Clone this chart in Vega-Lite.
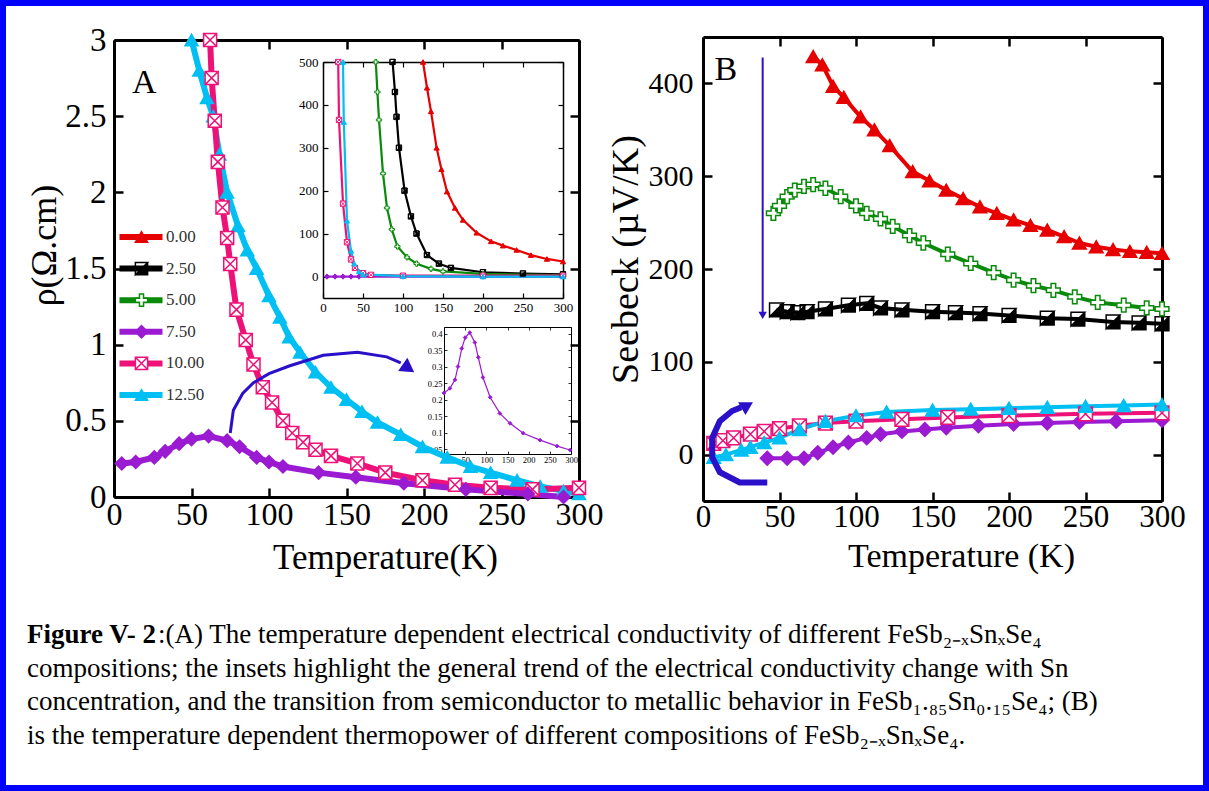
{
"$schema":"https://vega.github.io/schema/vega-lite/v6.json",
"width":1209,"height":791,"autosize":"none","padding":0,"background":"white",
"config":{
 "view":{"stroke":"#0000ff","strokeWidth":12},
 "axis":{"grid":false,"labelFlush":false,"labelOverlap":false,"domainColor":"black","tickColor":"black","labelColor":"black","titleColor":"black","labelFont":"Liberation Serif","titleFont":"Liberation Serif","titleFontWeight":"normal"},
 "legend":{"labelFont":"Liberation Serif","labelColor":"#333333","padding":0}
},
"datasets":{
 "rhoMain":[
  {"c":12.5,"T":50,"v":3.0},{"c":12.5,"T":55,"v":2.8},{"c":12.5,"T":60,"v":2.62},{"c":12.5,"T":64,"v":2.5},{"c":12.5,"T":68,"v":2.25},{"c":12.5,"T":73,"v":2.0},{"c":12.5,"T":80,"v":1.78},{"c":12.5,"T":86,"v":1.62},{"c":12.5,"T":92,"v":1.5},{"c":12.5,"T":100,"v":1.32},{"c":12.5,"T":107,"v":1.18},{"c":12.5,"T":113,"v":1.05},{"c":12.5,"T":120,"v":0.95},{"c":12.5,"T":130,"v":0.82},{"c":12.5,"T":140,"v":0.72},{"c":12.5,"T":150,"v":0.64},{"c":12.5,"T":160,"v":0.56},{"c":12.5,"T":170,"v":0.49},{"c":12.5,"T":185,"v":0.41},{"c":12.5,"T":199,"v":0.33},{"c":12.5,"T":215,"v":0.26},{"c":12.5,"T":230,"v":0.2},{"c":12.5,"T":243,"v":0.16},{"c":12.5,"T":260,"v":0.11},{"c":12.5,"T":275,"v":0.07},{"c":12.5,"T":290,"v":0.04},{"c":12.5,"T":300,"v":0.02},
  {"c":10,"T":62,"v":3.0},{"c":10,"T":63,"v":2.75},{"c":10,"T":65,"v":2.47},{"c":10,"T":67,"v":2.2},{"c":10,"T":70,"v":1.9},{"c":10,"T":73,"v":1.7},{"c":10,"T":75,"v":1.53},{"c":10,"T":79,"v":1.23},{"c":10,"T":85,"v":1.03},{"c":10,"T":90,"v":0.87},{"c":10,"T":96,"v":0.72},{"c":10,"T":102,"v":0.62},{"c":10,"T":109,"v":0.5},{"c":10,"T":115,"v":0.42},{"c":10,"T":122,"v":0.36},{"c":10,"T":130,"v":0.31},{"c":10,"T":140,"v":0.27},{"c":10,"T":157,"v":0.22},{"c":10,"T":175,"v":0.16},{"c":10,"T":199,"v":0.11},{"c":10,"T":220,"v":0.08},{"c":10,"T":243,"v":0.06},{"c":10,"T":270,"v":0.05},{"c":10,"T":300,"v":0.06},
  {"c":7.5,"T":5,"v":0.22},{"c":7.5,"T":14,"v":0.23},{"c":7.5,"T":26,"v":0.26},{"c":7.5,"T":33,"v":0.3},{"c":7.5,"T":42,"v":0.35},{"c":7.5,"T":50,"v":0.38},{"c":7.5,"T":61,"v":0.4},{"c":7.5,"T":73,"v":0.37},{"c":7.5,"T":81,"v":0.33},{"c":7.5,"T":92,"v":0.26},{"c":7.5,"T":100,"v":0.23},{"c":7.5,"T":109,"v":0.2},{"c":7.5,"T":132,"v":0.16},{"c":7.5,"T":156,"v":0.13},{"c":7.5,"T":187,"v":0.09},{"c":7.5,"T":227,"v":0.05},{"c":7.5,"T":267,"v":0.02},{"c":7.5,"T":290,"v":0.0}
 ],
 "rhoInset":[
  {"c":0,"T":125,"v":500},{"c":0,"T":130,"v":440},{"c":0,"T":135,"v":385},{"c":0,"T":142,"v":300},{"c":0,"T":148,"v":250},{"c":0,"T":155,"v":198},{"c":0,"T":165,"v":160},{"c":0,"T":175,"v":132},{"c":0,"T":192,"v":102},{"c":0,"T":210,"v":82},{"c":0,"T":225,"v":72},{"c":0,"T":242,"v":62},{"c":0,"T":260,"v":50},{"c":0,"T":280,"v":41},{"c":0,"T":300,"v":35},
  {"c":2.5,"T":87,"v":500},{"c":2.5,"T":90,"v":430},{"c":2.5,"T":92,"v":372},{"c":2.5,"T":95,"v":300},{"c":2.5,"T":102,"v":200},{"c":2.5,"T":110,"v":140},{"c":2.5,"T":117,"v":100},{"c":2.5,"T":130,"v":50},{"c":2.5,"T":145,"v":30},{"c":2.5,"T":160,"v":20},{"c":2.5,"T":200,"v":10},{"c":2.5,"T":250,"v":7},{"c":2.5,"T":300,"v":5},
  {"c":5,"T":66,"v":500},{"c":5,"T":68,"v":430},{"c":5,"T":70,"v":365},{"c":5,"T":75,"v":240},{"c":5,"T":80,"v":160},{"c":5,"T":86,"v":110},{"c":5,"T":93,"v":70},{"c":5,"T":105,"v":45},{"c":5,"T":117,"v":30},{"c":5,"T":135,"v":18},{"c":5,"T":150,"v":12},{"c":5,"T":200,"v":6},{"c":5,"T":300,"v":3},
  {"c":7.5,"T":5,"v":0},{"c":7.5,"T":15,"v":0},{"c":7.5,"T":25,"v":0},{"c":7.5,"T":35,"v":0},{"c":7.5,"T":45,"v":0},{"c":7.5,"T":100,"v":0},{"c":7.5,"T":200,"v":0},{"c":7.5,"T":300,"v":0},
  {"c":10,"T":19,"v":500},{"c":10,"T":20,"v":365},{"c":10,"T":25,"v":170},{"c":10,"T":30,"v":80},{"c":10,"T":35,"v":40},{"c":10,"T":40,"v":20},{"c":10,"T":50,"v":8},{"c":10,"T":60,"v":4},{"c":10,"T":100,"v":2},{"c":10,"T":200,"v":2},{"c":10,"T":300,"v":2},
  {"c":12.5,"T":25,"v":500},{"c":12.5,"T":26,"v":360},{"c":12.5,"T":30,"v":130},{"c":12.5,"T":35,"v":60},{"c":12.5,"T":39,"v":30},{"c":12.5,"T":45,"v":12},{"c":12.5,"T":50,"v":5},{"c":12.5,"T":100,"v":1},{"c":12.5,"T":200,"v":0},{"c":12.5,"T":300,"v":0}
 ],
 "rhoInset2":[
  {"c":7.5,"T":0,"v":0.22},{"c":7.5,"T":14,"v":0.234},{"c":7.5,"T":26,"v":0.26},{"c":7.5,"T":33,"v":0.3},{"c":7.5,"T":42,"v":0.355},{"c":7.5,"T":50,"v":0.388},{"c":7.5,"T":61,"v":0.403},{"c":7.5,"T":73,"v":0.373},{"c":7.5,"T":81,"v":0.328},{"c":7.5,"T":92,"v":0.267},{"c":7.5,"T":109,"v":0.207},{"c":7.5,"T":132,"v":0.158},{"c":7.5,"T":156,"v":0.128},{"c":7.5,"T":187,"v":0.098},{"c":7.5,"T":227,"v":0.077},{"c":7.5,"T":267,"v":0.059},{"c":7.5,"T":298,"v":0.047}
 ],
 "seebeck":[
  {"c":0,"T":72,"v":429},{"c":0,"T":78,"v":420},{"c":0,"T":85,"v":397},{"c":0,"T":92,"v":385},{"c":0,"T":103,"v":364},{"c":0,"T":112,"v":350},{"c":0,"T":122,"v":333},{"c":0,"T":137,"v":305},{"c":0,"T":148,"v":295},{"c":0,"T":159,"v":285},{"c":0,"T":170,"v":276},{"c":0,"T":181,"v":267},{"c":0,"T":192,"v":260},{"c":0,"T":203,"v":253},{"c":0,"T":214,"v":247},{"c":0,"T":225,"v":242},{"c":0,"T":236,"v":235},{"c":0,"T":246,"v":228},{"c":0,"T":257,"v":224},{"c":0,"T":268,"v":221},{"c":0,"T":279,"v":219},{"c":0,"T":290,"v":218},{"c":0,"T":300,"v":217},
  {"c":2.5,"T":48,"v":156},{"c":2.5,"T":55,"v":154},{"c":2.5,"T":62,"v":153},{"c":2.5,"T":68,"v":154},{"c":2.5,"T":80,"v":157},{"c":2.5,"T":95,"v":161},{"c":2.5,"T":107,"v":163},{"c":2.5,"T":116,"v":158},{"c":2.5,"T":130,"v":156},{"c":2.5,"T":150,"v":154},{"c":2.5,"T":165,"v":153},{"c":2.5,"T":181,"v":152},{"c":2.5,"T":200,"v":150},{"c":2.5,"T":225,"v":147},{"c":2.5,"T":245,"v":146},{"c":2.5,"T":268,"v":143},{"c":2.5,"T":285,"v":142},{"c":2.5,"T":300,"v":141},
  {"c":5,"T":46,"v":260},{"c":5,"T":50,"v":268},{"c":5,"T":55,"v":278},{"c":5,"T":60,"v":285},{"c":5,"T":66,"v":289},{"c":5,"T":72,"v":291},{"c":5,"T":80,"v":287},{"c":5,"T":90,"v":278},{"c":5,"T":100,"v":268},{"c":5,"T":107,"v":260},{"c":5,"T":116,"v":254},{"c":5,"T":124,"v":246},{"c":5,"T":135,"v":236},{"c":5,"T":144,"v":228},{"c":5,"T":160,"v":216},{"c":5,"T":175,"v":206},{"c":5,"T":190,"v":196},{"c":5,"T":203,"v":188},{"c":5,"T":216,"v":182},{"c":5,"T":229,"v":177},{"c":5,"T":243,"v":170},{"c":5,"T":258,"v":164},{"c":5,"T":275,"v":161},{"c":5,"T":290,"v":158},{"c":5,"T":300,"v":157},
  {"c":7.5,"T":42,"v":-4},{"c":7.5,"T":55,"v":-4},{"c":7.5,"T":66,"v":-4},{"c":7.5,"T":75,"v":2},{"c":7.5,"T":85,"v":8},{"c":7.5,"T":95,"v":13},{"c":7.5,"T":107,"v":18},{"c":7.5,"T":116,"v":22},{"c":7.5,"T":130,"v":25},{"c":7.5,"T":145,"v":27},{"c":7.5,"T":159,"v":29},{"c":7.5,"T":180,"v":31},{"c":7.5,"T":203,"v":33},{"c":7.5,"T":225,"v":34},{"c":7.5,"T":246,"v":35},{"c":7.5,"T":270,"v":36},{"c":7.5,"T":300,"v":37},
  {"c":10,"T":7,"v":12},{"c":10,"T":13,"v":15},{"c":10,"T":20,"v":18},{"c":10,"T":31,"v":22},{"c":10,"T":40,"v":25},{"c":10,"T":50,"v":28},{"c":10,"T":63,"v":31},{"c":10,"T":80,"v":34},{"c":10,"T":100,"v":36},{"c":10,"T":130,"v":38},{"c":10,"T":160,"v":40},{"c":10,"T":200,"v":42},{"c":10,"T":250,"v":44},{"c":10,"T":300,"v":45},
  {"c":12.5,"T":7,"v":-3},{"c":12.5,"T":15,"v":0},{"c":12.5,"T":25,"v":5},{"c":12.5,"T":31,"v":8},{"c":12.5,"T":40,"v":13},{"c":12.5,"T":50,"v":18},{"c":12.5,"T":63,"v":27},{"c":12.5,"T":80,"v":36},{"c":12.5,"T":100,"v":42},{"c":12.5,"T":120,"v":46},{"c":12.5,"T":150,"v":48},{"c":12.5,"T":175,"v":49},{"c":12.5,"T":200,"v":50},{"c":12.5,"T":225,"v":51},{"c":12.5,"T":250,"v":52},{"c":12.5,"T":275,"v":53},{"c":12.5,"T":300,"v":54}
 ],
 "arrowA":[{"i":1,"T":75,"v":0.42},{"i":2,"T":77,"v":0.57},{"i":3,"T":83,"v":0.68},{"i":4,"T":90,"v":0.75},{"i":5,"T":100,"v":0.81},{"i":6,"T":113,"v":0.86},{"i":7,"T":135,"v":0.93},{"i":8,"T":157,"v":0.95},{"i":9,"T":176,"v":0.92},{"i":10,"T":185,"v":0.88}],
 "arrowAHead":[{"T":190,"v":0.845}],
 "arrowB":[{"i":1,"T":42,"v":-30},{"i":2,"T":24,"v":-30},{"i":3,"T":11,"v":-19},{"i":4,"T":6,"v":-3},{"i":5,"T":6,"v":18},{"i":6,"T":11,"v":36},{"i":7,"T":19,"v":47},{"i":8,"T":25,"v":51}],
 "arrowBHead":[{"T":29,"v":53}],
 "vArrow":[{"T":39,"v":428,"v2":152}],
 "vArrowHead":[{"T":39,"v":150}],
 "labelA":[{"T":19.5,"v":2.72,"t":"A"}],
 "labelB":[{"T":15,"v":414,"t":"B"}],
 "capBold":[{"line":1,"t":"Figure V- 2"}],
 "capFirst":[{"line":1,"t":":(A) The temperature dependent electrical conductivity of different  FeSb₂₋ₓSnₓSe₄"}],
 "capRest":[
  {"line":2,"t":"compositions; the insets highlight the general trend of the electrical conductivity change with Sn"},
  {"line":3,"t":"concentration, and the transition from semiconductor to metallic behavior in FeSb₁.₈₅Sn₀.₁₅Se₄; (B)"},
  {"line":4,"t":"is the temperature dependent thermopower of different compositions of FeSb₂₋ₓSnₓSe₄."}
 ]
},
"layer":[
 {
  "layer":[
   {"data":{"name":"rhoMain"},"mark":{"type":"line","strokeWidth":6},
    "encoding":{
     "x":{"field":"T","type":"quantitative","scale":{"domain":[0,300],"range":[114,579],"nice":false,"zero":false},
      "axis":{"orient":"bottom","offset":-294,"values":[0,50,100,150,200,250,300],"tickSize":-9,"tickWidth":2.5,"domainWidth":3,"labelFontSize":32,"labelPadding":11,"title":"Temperature(K)","titleFontSize":35,"titleX":385,"titleY":60,"titleBaseline":"middle"}},
     "y":{"field":"v","type":"quantitative","scale":{"domain":[0,3],"range":[497,40],"nice":false,"zero":false},
      "axis":{"orient":"left","offset":-114,"values":[0,0.5,1,1.5,2,2.5,3],"format":"~g","tickSize":-9,"tickWidth":2.5,"domainWidth":3,"labelFontSize":33,"labelPadding":17,"title":"ρ(Ω.cm)","titleFontSize":36,"titleX":-70,"titleY":245,"titleBaseline":"middle"}},
     "color":{"field":"c","type":"ordinal","scale":{"range":["#e60000","#000000","#0a8a0a","#9a1bd1","#ee1177","#00bff2"]},
      "legend":{"orient":"none","legendX":116,"legendY":224,"title":null,"symbolType":"stroke","symbolSize":1850,"symbolStrokeWidth":6,"clipHeight":26,"rowPadding":5.6,"labelFontSize":17,"labelOffset":0,"format":".2f","formatType":"number"}}
    }},
   {"data":{"name":"rhoMain"},"mark":{"type":"point","size":170,"strokeWidth":1.5,"opacity":1},
    "encoding":{
     "x":{"field":"T","type":"quantitative","scale":{"domain":[0,300],"range":[114,579],"nice":false,"zero":false},"axis":null},
     "y":{"field":"v","type":"quantitative","scale":{"domain":[0,3],"range":[497,40],"nice":false,"zero":false},"axis":null},
     "shape":{"field":"c","type":"ordinal","scale":{"domain":[0,2.5,5,7.5,10,12.5],"range":["triangle-up","M-1,-1H1V1H-1Z M-1,-1L-1,1L1,-1Z","M-0.33,-1H0.33V-0.33H1V0.33H0.33V1H-0.33V0.33H-1V-0.33H-0.33Z","diamond","M-1,-1H1V1H-1Z M-1,-1L1,1 M1,-1L-1,1","triangle-up"]},
      "legend":{"orient":"none","legendX":133,"legendY":224,"title":null,"symbolSize":150,"symbolStrokeWidth":1.5,"clipHeight":26,"rowPadding":5.6,"labelFontSize":17,"labelExpr":"''"}},
     "fill":{"field":"c","type":"ordinal","scale":{"domain":[0,2.5,5,7.5,10,12.5],"range":["#e60000","#000000","#ffffff","#9a1bd1","#ffffff","#00bff2"]}},
     "stroke":{"field":"c","type":"ordinal","scale":{"domain":[0,2.5,5,7.5,10,12.5],"range":["#e60000","#000000","#0a8a0a","#9a1bd1","#ee1177","#00bff2"]}}
    }},
   {"data":{"name":"arrowA"},"mark":{"type":"line","strokeWidth":3,"color":"#2a10c8"},
    "encoding":{
     "x":{"field":"T","type":"quantitative","scale":{"domain":[0,300],"range":[114,579],"nice":false,"zero":false},"axis":null},
     "y":{"field":"v","type":"quantitative","scale":{"domain":[0,3],"range":[497,40],"nice":false,"zero":false},"axis":null},
     "order":{"field":"i","type":"quantitative"}
    }},
   {"data":{"name":"arrowAHead"},"mark":{"type":"point","shape":"triangle-up","angle":125,"size":260,"filled":true,"opacity":1,"color":"#2a10c8"},
    "encoding":{
     "x":{"field":"T","type":"quantitative","scale":{"domain":[0,300],"range":[114,579],"nice":false,"zero":false},"axis":null},
     "y":{"field":"v","type":"quantitative","scale":{"domain":[0,3],"range":[497,40],"nice":false,"zero":false},"axis":null}
    }},
   {"data":{"name":"labelA"},"mark":{"type":"text","font":"Liberation Serif","fontSize":34,"align":"center","baseline":"middle","color":"black"},
    "encoding":{
     "x":{"field":"T","type":"quantitative","scale":{"domain":[0,300],"range":[114,579],"nice":false,"zero":false},
      "axis":{"orient":"top","offset":-40,"values":[0,50,100,150,200,250,300],"tickSize":-9,"tickWidth":2.5,"domainWidth":3,"labels":false,"title":null}},
     "y":{"field":"v","type":"quantitative","scale":{"domain":[0,3],"range":[497,40],"nice":false,"zero":false},
      "axis":{"orient":"right","offset":-630,"values":[0,0.5,1,1.5,2,2.5,3],"tickSize":-9,"tickWidth":2.5,"domainWidth":3,"labels":false,"title":null}},
     "text":{"field":"t"}
    }}
  ],
  "resolve":{"axis":{"x":"independent","y":"independent"}}
 },
 {
  "layer":[
   {"data":{"name":"rhoInset"},"mark":{"type":"line","strokeWidth":2.2},
    "encoding":{
     "x":{"field":"T","type":"quantitative","scale":{"domain":[0,300],"range":[323,563],"nice":false,"zero":false},
      "axis":{"orient":"bottom","offset":-493,"values":[0,50,100,150,200,250,300],"tickSize":-5,"tickWidth":1.2,"domainWidth":1.5,"labelFontSize":13,"labelPadding":8,"title":null}},
     "y":{"field":"v","type":"quantitative","scale":{"domain":[-50,500],"range":[298,62],"nice":false,"zero":false},
      "axis":{"orient":"left","offset":-323,"values":[0,100,200,300,400,500],"tickSize":-5,"tickWidth":1.2,"domainWidth":1.5,"labelFontSize":13,"labelPadding":10,"title":null}},
     "color":{"field":"c","type":"ordinal","scale":{"range":["#e60000","#000000","#0a8a0a","#9a1bd1","#ee1177","#00bff2"]}}
    }},
   {"data":{"name":"rhoInset"},"mark":{"type":"point","size":28,"strokeWidth":1,"opacity":1},
    "encoding":{
     "x":{"field":"T","type":"quantitative","scale":{"domain":[0,300],"range":[323,563],"nice":false,"zero":false},
      "axis":{"orient":"top","offset":-62,"values":[0,50,100,150,200,250,300],"tickSize":-5,"tickWidth":1.2,"domainWidth":1.5,"labels":false,"title":null}},
     "y":{"field":"v","type":"quantitative","scale":{"domain":[-50,500],"range":[298,62],"nice":false,"zero":false},
      "axis":{"orient":"right","offset":-646,"values":[0,100,200,300,400,500],"tickSize":-5,"tickWidth":1.2,"domainWidth":1.5,"labels":false,"title":null}},
     "shape":{"field":"c","type":"ordinal","scale":{"domain":[0,2.5,5,7.5,10,12.5],"range":["triangle-up","M-1,-1H1V1H-1Z M-1,-1L-1,1L1,-1Z","M-0.33,-1H0.33V-0.33H1V0.33H0.33V1H-0.33V0.33H-1V-0.33H-0.33Z","diamond","M-1,-1H1V1H-1Z M-1,-1L1,1 M1,-1L-1,1","triangle-up"]}},
     "fill":{"field":"c","type":"ordinal","scale":{"domain":[0,2.5,5,7.5,10,12.5],"range":["#e60000","#000000","#ffffff","#9a1bd1","#ffffff","#00bff2"]}},
     "stroke":{"field":"c","type":"ordinal","scale":{"domain":[0,2.5,5,7.5,10,12.5],"range":["#e60000","#000000","#0a8a0a","#9a1bd1","#ee1177","#00bff2"]}}
    }}
  ],
  "resolve":{"axis":{"x":"independent","y":"independent"}}
 },
 {
  "layer":[
   {"data":{"name":"rhoInset2"},"mark":{"type":"line","strokeWidth":1.2},
    "encoding":{
     "x":{"field":"T","type":"quantitative","scale":{"domain":[0,300],"range":[444,571],"nice":false,"zero":false},
      "axis":{"orient":"bottom","offset":-337,"values":[0,50,100,150,200,250,300],"tickSize":-3,"tickWidth":0.8,"domainWidth":1,"labelFontSize":8.5,"labelPadding":4,"title":null}},
     "y":{"field":"v","type":"quantitative","scale":{"domain":[0.035,0.42],"range":[454,327],"nice":false,"zero":false},
      "axis":{"orient":"left","offset":-444,"values":[0.05,0.1,0.15,0.2,0.25,0.3,0.35,0.4],"format":".2~f","tickSize":-3,"tickWidth":0.8,"domainWidth":1,"labelFontSize":8.5,"labelPadding":5,"title":null}},
     "color":{"field":"c","type":"ordinal","scale":{"range":["#e60000","#000000","#0a8a0a","#9a1bd1","#ee1177","#00bff2"]}}
    }},
   {"data":{"name":"rhoInset2"},"mark":{"type":"point","size":14,"strokeWidth":1,"opacity":1},
    "encoding":{
     "x":{"field":"T","type":"quantitative","scale":{"domain":[0,300],"range":[444,571],"nice":false,"zero":false},
      "axis":{"orient":"top","offset":-327,"values":[0,50,100,150,200,250,300],"tickSize":-3,"tickWidth":0.8,"domainWidth":1,"labels":false,"title":null}},
     "y":{"field":"v","type":"quantitative","scale":{"domain":[0.035,0.42],"range":[454,327],"nice":false,"zero":false},
      "axis":{"orient":"right","offset":-638,"values":[0.05,0.1,0.15,0.2,0.25,0.3,0.35,0.4],"tickSize":-3,"tickWidth":0.8,"domainWidth":1,"labels":false,"title":null}},
     "shape":{"field":"c","type":"ordinal","scale":{"domain":[0,2.5,5,7.5,10,12.5],"range":["triangle-up","M-1,-1H1V1H-1Z M-1,-1L-1,1L1,-1Z","M-0.33,-1H0.33V-0.33H1V0.33H0.33V1H-0.33V0.33H-1V-0.33H-0.33Z","diamond","M-1,-1H1V1H-1Z M-1,-1L1,1 M1,-1L-1,1","triangle-up"]}},
     "fill":{"field":"c","type":"ordinal","scale":{"domain":[0,2.5,5,7.5,10,12.5],"range":["#e60000","#000000","#ffffff","#9a1bd1","#ffffff","#00bff2"]}},
     "stroke":{"field":"c","type":"ordinal","scale":{"domain":[0,2.5,5,7.5,10,12.5],"range":["#e60000","#000000","#0a8a0a","#9a1bd1","#ee1177","#00bff2"]}}
    }}
  ],
  "resolve":{"axis":{"x":"independent","y":"independent"}}
 },
 {
  "layer":[
   {"data":{"name":"seebeck"},"mark":{"type":"line","strokeWidth":4},
    "encoding":{
     "x":{"field":"T","type":"quantitative","scale":{"domain":[0,300],"range":[703,1162],"nice":false,"zero":false},
      "axis":{"orient":"bottom","offset":-290,"values":[0,50,100,150,200,250,300],"tickSize":-9,"tickWidth":2.5,"domainWidth":3,"labelFontSize":31,"labelPadding":10,"title":"Temperature (K)","titleFontSize":34,"titleX":961,"titleY":55,"titleBaseline":"middle"}},
     "y":{"field":"v","type":"quantitative","scale":{"domain":[-50,450],"range":[501,37],"nice":false,"zero":false},
      "axis":{"orient":"left","offset":-703,"values":[0,100,200,300,400],"tickSize":-9,"tickWidth":2.5,"domainWidth":3,"labelFontSize":30,"labelPadding":19,"title":"Seebeck (µV/K)","titleFontSize":38,"titleX":-77,"titleY":259,"titleBaseline":"middle"}},
     "color":{"field":"c","type":"ordinal","scale":{"range":["#e60000","#000000","#0a8a0a","#9a1bd1","#ee1177","#00bff2"]}}
    }},
   {"data":{"name":"seebeck"},"mark":{"type":"point","size":190,"strokeWidth":1.5,"opacity":1},
    "encoding":{
     "x":{"field":"T","type":"quantitative","scale":{"domain":[0,300],"range":[703,1162],"nice":false,"zero":false},"axis":null},
     "y":{"field":"v","type":"quantitative","scale":{"domain":[-50,450],"range":[501,37],"nice":false,"zero":false},"axis":null},
     "shape":{"field":"c","type":"ordinal","scale":{"domain":[0,2.5,5,7.5,10,12.5],"range":["triangle-up","M-1,-1H1V1H-1Z M-1,-1L-1,1L1,-1Z","M-0.33,-1H0.33V-0.33H1V0.33H0.33V1H-0.33V0.33H-1V-0.33H-0.33Z","diamond","M-1,-1H1V1H-1Z M-1,-1L1,1 M1,-1L-1,1","triangle-up"]}},
     "fill":{"field":"c","type":"ordinal","scale":{"domain":[0,2.5,5,7.5,10,12.5],"range":["#e60000","#000000","#ffffff","#9a1bd1","#ffffff","#00bff2"]}},
     "stroke":{"field":"c","type":"ordinal","scale":{"domain":[0,2.5,5,7.5,10,12.5],"range":["#e60000","#000000","#0a8a0a","#9a1bd1","#ee1177","#00bff2"]}}
    }},
   {"data":{"name":"vArrow"},"mark":{"type":"rule","strokeWidth":2,"color":"#2a10c8"},
    "encoding":{
     "x":{"field":"T","type":"quantitative","scale":{"domain":[0,300],"range":[703,1162],"nice":false,"zero":false},"axis":null},
     "y":{"field":"v","type":"quantitative","scale":{"domain":[-50,450],"range":[501,37],"nice":false,"zero":false},"axis":null},
     "y2":{"field":"v2"}
    }},
   {"data":{"name":"vArrowHead"},"mark":{"type":"point","shape":"triangle-down","size":70,"filled":true,"opacity":1,"color":"#2a10c8"},
    "encoding":{
     "x":{"field":"T","type":"quantitative","scale":{"domain":[0,300],"range":[703,1162],"nice":false,"zero":false},"axis":null},
     "y":{"field":"v","type":"quantitative","scale":{"domain":[-50,450],"range":[501,37],"nice":false,"zero":false},"axis":null}
    }},
   {"data":{"name":"arrowB"},"mark":{"type":"line","strokeWidth":6,"color":"#2a10c8"},
    "encoding":{
     "x":{"field":"T","type":"quantitative","scale":{"domain":[0,300],"range":[703,1162],"nice":false,"zero":false},"axis":null},
     "y":{"field":"v","type":"quantitative","scale":{"domain":[-50,450],"range":[501,37],"nice":false,"zero":false},"axis":null},
     "order":{"field":"i","type":"quantitative"}
    }},
   {"data":{"name":"arrowBHead"},"mark":{"type":"point","shape":"triangle-up","angle":60,"size":220,"filled":true,"opacity":1,"color":"#2a10c8"},
    "encoding":{
     "x":{"field":"T","type":"quantitative","scale":{"domain":[0,300],"range":[703,1162],"nice":false,"zero":false},"axis":null},
     "y":{"field":"v","type":"quantitative","scale":{"domain":[-50,450],"range":[501,37],"nice":false,"zero":false},"axis":null}
    }},
   {"data":{"name":"labelB"},"mark":{"type":"text","font":"Liberation Serif","fontSize":34,"align":"center","baseline":"middle","color":"black"},
    "encoding":{
     "x":{"field":"T","type":"quantitative","scale":{"domain":[0,300],"range":[703,1162],"nice":false,"zero":false},
      "axis":{"orient":"top","offset":-37,"values":[0,50,100,150,200,250,300],"tickSize":-9,"tickWidth":2.5,"domainWidth":3,"labels":false,"title":null}},
     "y":{"field":"v","type":"quantitative","scale":{"domain":[-50,450],"range":[501,37],"nice":false,"zero":false},
      "axis":{"orient":"right","offset":-47,"values":[0,100,200,300,400],"tickSize":-9,"tickWidth":2.5,"domainWidth":3,"labels":false,"title":null}},
     "text":{"field":"t"}
    }}
  ],
  "resolve":{"axis":{"x":"independent","y":"independent"}}
 },
 {
  "layer":[
   {"data":{"name":"capBold"},"mark":{"type":"text","font":"Liberation Serif","fontSize":27,"fontWeight":"bold","align":"left","baseline":"alphabetic","color":"black"},
    "encoding":{
     "x":{"datum":0,"type":"quantitative","scale":{"domain":[0,1],"range":[27,1195]},"axis":null},
     "y":{"field":"line","type":"quantitative","scale":{"domain":[1,4],"range":[643,744],"nice":false,"zero":false},"axis":null},
     "text":{"field":"t"}
    }},
   {"data":{"name":"capFirst"},"mark":{"type":"text","font":"Liberation Serif","fontSize":27,"align":"left","baseline":"alphabetic","color":"black","dx":131},
    "encoding":{
     "x":{"datum":0,"type":"quantitative","scale":{"domain":[0,1],"range":[27,1195]},"axis":null},
     "y":{"field":"line","type":"quantitative","scale":{"domain":[1,4],"range":[643,744],"nice":false,"zero":false},"axis":null},
     "text":{"field":"t"}
    }},
   {"data":{"name":"capRest"},"mark":{"type":"text","font":"Liberation Serif","fontSize":27,"align":"left","baseline":"alphabetic","color":"black"},
    "encoding":{
     "x":{"datum":0,"type":"quantitative","scale":{"domain":[0,1],"range":[27,1195]},"axis":null},
     "y":{"field":"line","type":"quantitative","scale":{"domain":[1,4],"range":[643,744],"nice":false,"zero":false},"axis":null},
     "text":{"field":"t"}
    }}
  ]
 }
],
"resolve":{"scale":{"x":"independent","y":"independent"}}
}
